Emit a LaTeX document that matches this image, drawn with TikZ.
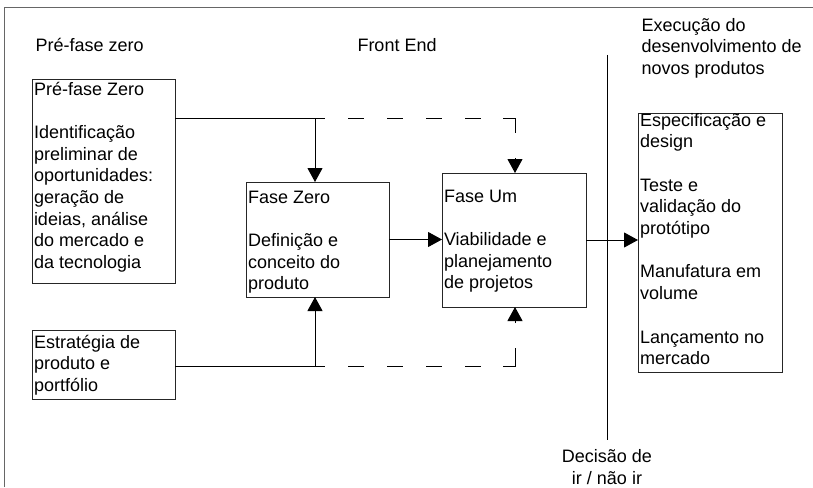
\documentclass[tikz,border=0pt]{standalone}
\usepackage{fontspec}
\setmainfont{Liberation Sans}
\usetikzlibrary{arrows.meta}

\newcommand{\fonte}{\fontsize{18}{21.7}\selectfont}
\newcommand{\caixa}[4]{\parbox[t][#2][t]{#1}{\raggedright\rule{0pt}{#3}#4}}

\tikzstyle{fase} = [draw=black!85, line width=0.9pt, anchor=north west, inner xsep=2pt, inner ysep=0pt, outer sep=0pt]
\tikzstyle{titulo} = [inner sep=0pt]
\tikzstyle{seta} = [-{Triangle[length=14pt, width=15pt]}]
\tikzstyle{tracejado} = [dash pattern=on 16pt off 23pt, dash phase=16pt]
\tikzstyle{moldura} = [draw=black!60, line width=0.8pt]

\begin{document}
\begin{tikzpicture}[x=1pt, y=-1pt, line width=1pt, font=\fonte]
\useasboundingbox (0,0) rectangle (813,487);
\draw[moldura] (4,487) -- (4,7) -- (813,7);

\node[titulo, anchor=base west] (tprefase) at (35,52) {Pré-fase zero};
\node[titulo, anchor=base west] (tfront) at (357,52) {Front End};
\node[titulo, anchor=north west, align=left] (texec) at (641,17.5)
    {Execução do\\desenvolvimento de\\novos produtos};

\node[fase] (prefase) at (32,79) {\caixa{139pt}{204pt}{16pt}{Pré-fase Zero\\[21.7pt]
    Identificação\\preliminar de\\oportunidades:\\geração de\\ideias, análise\\do mercado e\\da tecnologia}};
\node[fase] (estrat) at (32,330) {\caixa{139pt}{69pt}{18pt}{Estratégia de\\produto e\\portfólio}};
\node[fase] (fzero) at (246,182) {\caixa{139pt}{115pt}{21pt}{Fase Zero\\[21.7pt]
    Definição e\\conceito do\\produto}};
\node[fase] (fum) at (442,173) {\caixa{140pt}{134pt}{29pt}{Fase Um\\[21.7pt]
    Viabilidade e\\planejamento\\de projetos}};
\node[fase] (exec) at (638,113) {\caixa{140pt}{259pt}{13pt}{Especificação e\\design\\[21.7pt]
    Teste e\\validação do\\protótipo\\[21.7pt]
    Manufatura em\\volume\\[21.7pt]
    Lançamento no\\mercado}};

\coordinate (jsup) at (315,118);
\coordinate (fsup) at (325,118);
\coordinate (csup) at (503,118);
\coordinate (qsup) at (515,133);
\coordinate (psup) at (515,158);
\coordinate (jinf) at (315,366);
\coordinate (finf) at (325,366);
\coordinate (cinf) at (503,366);
\coordinate (qinf) at (515,348);
\coordinate (pinf) at (515,323);

\draw (prefase.east |- fsup) -- (fsup);
\draw[seta] (jsup) -- (jsup |- fzero.north);
\draw[tracejado] (fsup) -- (csup);
\draw (csup) -| (qsup);
\draw[seta] (psup) -- (psup |- fum.north);

\draw (estrat.east |- finf) -- (finf);
\draw[seta] (jinf) -- (jinf |- fzero.south);
\draw[tracejado] (finf) -- (cinf);
\draw (cinf) -| (qinf);
\draw[seta] (pinf) -- (pinf |- fum.south);

\draw[seta] (fzero.east) -- (fum.west |- fzero.east);
\draw[seta] (fum.east) -- (exec.west |- fum.east);

\coordinate (dtopo) at (607,55);
\coordinate (dbase) at (607,440);
\draw (dtopo) -- (dbase);
\node[titulo, anchor=north, align=center] (tdecisao) at (607,449) {Decisão de\\ir / não ir};
\end{tikzpicture}
\end{document}
